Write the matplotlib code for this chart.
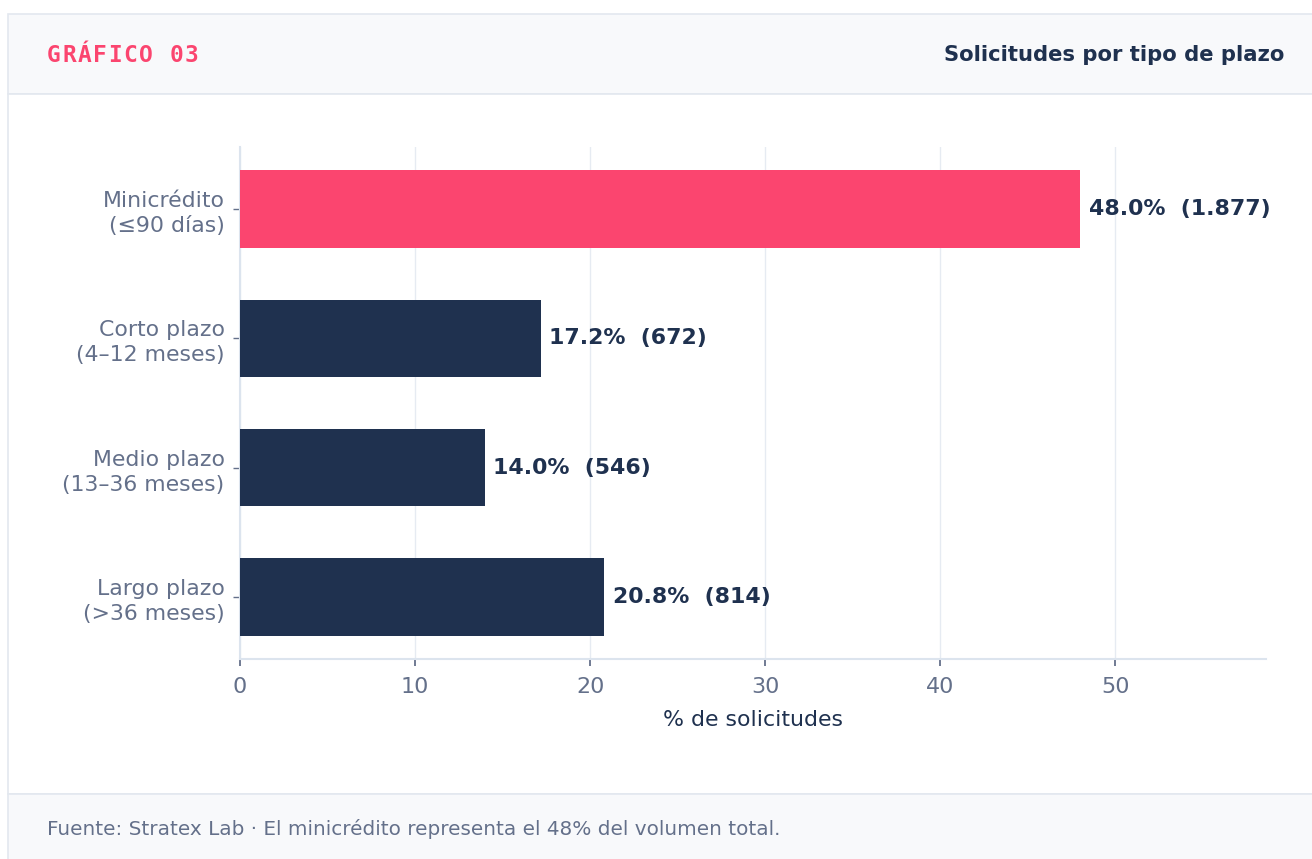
import matplotlib
matplotlib.use("Agg")
import matplotlib.pyplot as plt
from matplotlib.patches import Rectangle
from matplotlib.transforms import offset_copy

# Data
categories = ["Minicrédito\n(≤90 días)", "Corto plazo\n(4–12 meses)",
              "Medio plazo\n(13–36 meses)", "Largo plazo\n(>36 meses)"]
percentages = [48.0, 17.2, 14.0, 20.8]
counts = [1877, 672, 546, 814]
bar_colors = ["#FB456F", "#1F314F", "#1F314F", "#1F314F"]
x_ticks = [0, 10, 20, 30, 40, 50]

NAVY = "#1F314F"
MUTED = "#64708A"
GRID = "#E6EBF2"
PANEL = "#F8F9FB"
EDGE = "#E3E8EF"

W, H = 1312, 859
fig = plt.figure(figsize=(W / 100, H / 100), dpi=100)
fig.patch.set_facecolor("white")


def px_rect(x0, y0, x1, y1, **kw):
    """Rectangle in pixel coordinates measured from the top-left corner."""
    r = Rectangle((x0 / W, 1 - y1 / H), (x1 - x0) / W, (y1 - y0) / H,
                  transform=fig.transFigure, zorder=-5, **kw)
    fig.add_artist(r)


# Card: header band, white body, footer band
px_rect(8, 14, W + 5, 94, facecolor=PANEL, edgecolor=EDGE, linewidth=1.2)
px_rect(8, 94, W + 5, 794, facecolor="white", edgecolor=EDGE, linewidth=1.2)
px_rect(8, 794, W + 5, H + 5, facecolor=PANEL, edgecolor=EDGE, linewidth=1.2)

# Letter-spaced monospace kicker
kicker = "GRÁFICO 03"
kicker_size = 16.5
advance_px = 0.602 * kicker_size * 100 / 72 + 1.5
for i, ch in enumerate(kicker):
    tr = offset_copy(fig.transFigure, fig=fig, x=i * advance_px * 72 / 100,
                     y=0, units="points")
    fig.text(47 / W, 1 - 55 / H, ch, transform=tr,
             family="DejaVu Sans Mono", weight="bold", fontsize=kicker_size,
             color="#FB456F", ha="left", va="center")

fig.text(1284 / W, 1 - 55 / H, "Solicitudes por tipo de plazo",
         weight="bold", fontsize=15.2, color=NAVY, ha="right", va="center")
fig.text(47 / W, 1 - 829 / H,
         "Fuente: Stratex Lab · El minicrédito representa el 48% del volumen total.",
         fontsize=14.4, color=MUTED, ha="left", va="center")

# Chart area
ax_left, ax_right, ax_top, ax_bottom = 240, 1266, 147, 659
ax = fig.add_axes([ax_left / W, 1 - ax_bottom / H,
                   (ax_right - ax_left) / W, (ax_bottom - ax_top) / H])
ax.set_facecolor("none")

ypos = list(range(len(categories)))
ax.barh(ypos, percentages, height=0.6, color=bar_colors, zorder=3)

for y, p, c in zip(ypos, percentages, counts):
    label = f"{p:.1f}%  ({c:,})".replace(",", ".")
    ax.annotate(label, xy=(p, y), xytext=(6, 0), textcoords="offset points",
                ha="left", va="center", fontsize=15.8, weight="bold",
                color=NAVY, zorder=4)

ax.set_xlim(0, 58.6)
ax.set_ylim(len(categories) - 0.52, -0.48)
ax.set_yticks(ypos)
ax.set_yticklabels(categories, fontsize=15.8, color=MUTED, linespacing=1.32)
ax.set_xticks(x_ticks)
ax.set_xticklabels([str(t) for t in x_ticks], fontsize=16, color=MUTED)
ax.set_xlabel("% de solicitudes", fontsize=15.8, color=NAVY, labelpad=9)

ax.tick_params(axis="y", length=5, width=1, color=MUTED, pad=6)
ax.tick_params(axis="x", length=5, width=1.3, color=MUTED, pad=8)

ax.grid(axis="x", color=GRID, linewidth=1, zorder=0)
ax.grid(axis="y", visible=False)
for side in ("top", "right"):
    ax.spines[side].set_visible(False)
for side in ("left", "bottom"):
    ax.spines[side].set_color("#DCE4EE")
    ax.spines[side].set_linewidth(1.5)

fig.savefig("out.png", dpi=100, facecolor="white")
